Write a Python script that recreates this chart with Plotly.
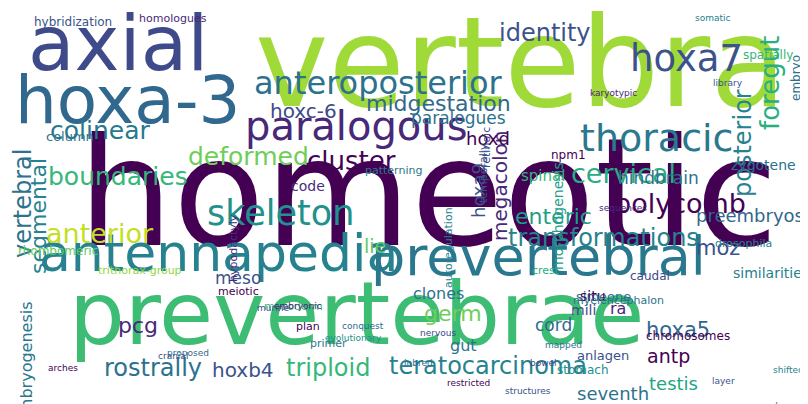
import plotly.graph_objects as go

# word cloud data: word, centre x, centre y (pixels on an 808x404 canvas), font size, colour, angle
words = ["homeotic", "vertebra", "prevertebrae", "axial", "hoxa-3", "antennapedia", "prevertebral",
         "paralogous", "thoracic", "hoxa7", "anteroposterior", "skeleton", "identity", "colinear",
         "boundaries", "deformed", "cluster", "hoxc-6", "midgestation", "vertebral", "segmental",
         "anterior", "cervical", "polycomb", "transformations", "enteric", "posterior", "foregut",
         "hoxa9", "megacolon", "morphogenesis", "teratocarcinoma", "hoxa5", "antp", "testis",
         "seventh", "triploid", "hoxb4", "rostrally", "pcg", "germ", "lie", "moz", "preembryos",
         "hindbrain", "trithorax-group", "caudal", "simeone", "similarities", "chromosomes", "cord",
         "ra", "anlagen", "stomach", "gut", "spinal", "hoxd", "embryogenesis", "zygotene", "npm1",
         "paralogues", "retinoic", "code", "meso", "clones", "situ", "mili", "drosophila",
         "hybridization", "homologues", "column", "rhombomeric", "meiotic", "mesoderm", "primer",
         "plan", "hypodactyly", "autoregulation", "crest", "myelencephalon", "spatially", "embryo",
         "temporally", "karyotypic", "library", "somatic", "conquest", "nervous", "evolutionary",
         "proposed", "cranial", "structures", "restricted", "mapped", "layer", "shifted", "cdna",
         "patterning", "arches", "murine", "embryonic", "inbred", "bowel", "sequences"]
xs = [420, 512, 348, 110, 120, 210, 530, 348, 648, 678, 370, 272, 537, 92, 110, 240, 343, 295, 430,
      15, 30, 92, 615, 672, 595, 545, 735, 762, 470, 492, 550, 480, 670, 660, 665, 605, 320, 235,
      145, 130, 445, 367, 710, 742, 650, 132, 642, 595, 763, 680, 545, 610, 595, 575, 455, 535, 480,
      18, 755, 560, 450, 478, 300, 230, 430, 585, 575, 735, 65, 165, 62, 50, 230, 285, 320,
      300, 225, 440, 538, 610, 760, 788, 475, 605, 720, 705, 355, 430, 345, 180, 165, 520, 460,
      555, 715, 780, 770, 385, 55, 265, 290, 410, 535, 615]
ys = [185, 55, 305, 35, 92, 245, 248, 118, 130, 50, 75, 205, 25, 122, 168, 148, 153, 103, 95,
      195, 208, 225, 165, 195, 230, 208, 135, 75, 183, 178, 208, 358, 322, 348, 375, 385, 360, 362,
      360, 317, 305, 238, 240, 207, 170, 262, 268, 288, 265, 328, 317, 300, 347, 362, 337, 168, 130,
      355, 157, 147, 110, 140, 178, 270, 285, 288, 302, 235, 14, 10, 128, 243, 283, 298, 335,
      318, 240, 240, 262, 292, 47, 70, 165, 85, 75, 10, 318, 325, 330, 345, 348, 383, 375,
      337, 373, 362, 398, 162, 360, 300, 298, 355, 355, 200]
sizes = [150, 124, 88, 76, 66, 52, 54, 40, 38, 37, 32, 35, 24, 25, 25, 25, 26, 20, 22,
         24, 22, 27, 27, 27, 24, 22, 24, 26, 18, 20, 14, 24, 21, 19, 18, 18, 24, 20,
         24, 22, 22, 19, 21, 18, 17, 11, 12, 13, 14, 12, 17, 16, 13, 12, 16, 15, 18,
         16, 14, 12, 17, 11, 14, 17, 16, 14, 14, 11, 12, 11, 13, 12, 11, 11, 11,
         11, 11, 11, 11, 11, 12, 12, 11, 9, 9, 9, 9, 9, 9, 9, 9, 9, 9,
         9, 9, 9, 9, 11, 9, 9, 9, 9, 9, 9]
colors = ["#440154", "#a0da39", "#3dbc74", "#3e4a89", "#31688e", "#26828e", "#2a788e", "#482878",
          "#2a788e", "#3b528b", "#2c728e", "#21918c", "#3b528b", "#2a788e", "#35b779", "#6ece58",
          "#440154", "#3e4a89", "#31688e", "#2c728e", "#26828e", "#c2df23", "#27ad81", "#440154",
          "#26828e", "#1f9e89", "#26828e", "#29af7f", "#3b528b", "#482878", "#1f9e89", "#26828e",
          "#31688e", "#440154", "#21a585", "#2c728e", "#35b779", "#3b528b", "#2c728e", "#482878",
          "#6ece58", "#5ec962", "#3b528b", "#31688e", "#2c728e", "#90d743", "#3e4a89", "#2c728e",
          "#26828e", "#440154", "#31688e", "#482878", "#3b528b", "#21918c", "#2c728e", "#35b779",
          "#440154", "#2a788e", "#2c728e", "#440154", "#2c728e", "#3e4a89", "#472d7b", "#3b528b",
          "#2c728e", "#440154", "#3e4a89", "#26828e", "#3b528b", "#482878", "#2c728e", "#5ec962",
          "#440154", "#35b779", "#2a788e", "#440154", "#472d7b", "#26828e", "#27ad81", "#2c728e",
          "#35b779", "#2c728e", "#3b528b", "#482878", "#3b528b", "#26828e", "#31688e", "#3e4a89",
          "#21918c", "#31688e", "#3b528b", "#3b528b", "#440154", "#2c728e", "#3b528b", "#26828e",
          "#31688e", "#2a788e", "#440154", "#3b528b", "#482878", "#31688e", "#3e4a89", "#482878"]
angles = [0, 0, 0, 0, 0, 0, 0, 0, 0, 0, 0, 0, 0, 0, 0, 0, 0, 0, 0, -90, -90, 0, 0, 0, 0, 0,
          -90, -90, -90, -90, -90, 0, 0, 0, 0, 0, 0, 0, 0, 0, 0, 0, 0, 0, 0, 0, 0, 0, 0, 0, 0,
          0, 0, 0, 0, 0, 0, -90, 0, 0, 0, -90, 0, 0, 0, 0, 0, 0, 0, 0, 0, 0, 0, 0, 0,
          0, -90, -90, 0, 0, 0, -90, -90, 0, 0, 0, 0, 0, 0, 0, 0, 0, 0, 0, 0, 0, 0, 0, 0,
          0, 0, 0, 0, 0]

fig = go.Figure()
fig.add_trace(go.Scatter(x=[0, 808], y=[0, 404], mode="markers",
                         marker=dict(opacity=0), hoverinfo="skip", showlegend=False))
for w, x, y, s, c, a in zip(words, xs, ys, sizes, colors, angles):
    fig.add_annotation(x=x, y=y, text=w, showarrow=False, textangle=a,
                       font=dict(family="DejaVu Sans", size=s, color=c),
                       xanchor="center", yanchor="middle")

fig.update_layout(
    width=808, height=404,
    margin=dict(l=0, r=0, t=0, b=0),
    paper_bgcolor="white", plot_bgcolor="white",
    xaxis=dict(range=[0, 808], visible=False),
    yaxis=dict(range=[404, 0], visible=False),
)
fig.write_html("out.html")
